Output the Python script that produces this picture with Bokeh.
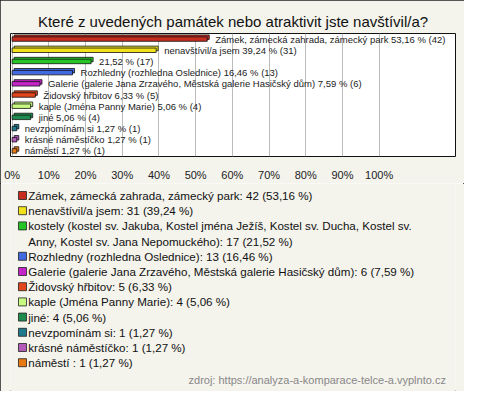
from bokeh.plotting import figure
from bokeh.layouts import column
from bokeh.models import (ColumnDataSource, Range1d, FixedTicker, PrintfTickFormatter, Label)
from bokeh.core.properties import value
from bokeh.embed import file_html
from bokeh.resources import INLINE

# ---- data ----
names = [
    "Zámek, zámecká zahrada, zámecký park",
    "nenavštívil/a jsem",
    "kostely (kostel sv. Jakuba, Kostel jména Ježíš, Kostel sv. Ducha, Kostel sv. Anny, Kostel sv. Jana Nepomuckého)",
    "Rozhledny (rozhledna Oslednice)",
    "Galerie (galerie Jana Zrzavého, Městská galerie Hasičský dům)",
    "Židovský hřbitov",
    "kaple (Jména Panny Marie)",
    "jiné",
    "nevzpomínám si",
    "krásné náměstíčko",
    "náměstí ",
]
bar_names = [
    "Zámek, zámecká zahrada, zámecký park",
    "nenavštívil/a jsem",
    "",
    "Rozhledny (rozhledna Oslednice)",
    "Galerie (galerie Jana Zrzavého, Městská galerie Hasičský dům)",
    "Židovský hřbitov",
    "kaple (Jména Panny Marie)",
    "jiné",
    "nevzpomínám si",
    "krásné náměstíčko",
    "náměstí ",
]
counts = [42, 31, 17, 13, 6, 5, 4, 4, 1, 1, 1]
percents = [53.16, 39.24, 21.52, 16.46, 7.59, 6.33, 5.06, 5.06, 1.27, 1.27, 1.27]
colors = ["#C62D1F", "#F2E21B", "#27C427", "#4169E1", "#C425C8", "#E2461C",
          "#C8FA82", "#1E8C4E", "#1E7A8C", "#B45AB9", "#E87A14"]
x_ticks = [0, 10, 20, 30, 40, 50, 60, 70, 80, 90, 100]
title_text = "Které z uvedených památek nebo atraktivit jste navštívil/a?"
source_text = "zdroj: https://analyza-a-komparace-telce-a.vyplnto.cz"

FONT = "Liberation Sans"
BG = "#F4F3EC"
W = 464
H1 = 183
H2 = 208


def fmt(p):
    return f"{p:.2f}".replace(".", ",")


rows = list(range(len(names)))
bar_labels = [((n + " ") if n else "") + f"{fmt(p)} % ({c})"
              for n, p, c in zip(bar_names, percents, counts)]
legend_labels = [f"{n}: {c} ({fmt(p)} %)" for n, p, c in zip(names, percents, counts)]
legend_labels = [l.replace("Ducha, Kostel sv. Anny", "Ducha, Kostel sv.\nAnny") for l in legend_labels]

# ---------------- bar chart ----------------
DX = 0.55   # 3D depth, % units
DY = 0.17   # 3D depth, row units
BH = 0.40

src = ColumnDataSource(dict(
    row=rows, pct=percents, color=colors, blabel=bar_labels,
    back_row=[r - DY for r in rows], back_left=[DX] * len(rows),
    back_right=[p + DX for p in percents],
))

p = figure(width=W, height=H1, output_backend="svg", toolbar_location=None,
           x_range=Range1d(-0.44, 120.8), y_range=Range1d(10.5, -0.5),
           y_axis_location=None, min_border_left=10, min_border_right=9,
           min_border_top=33, min_border_bottom=23,
           background_fill_color="white", border_fill_color=BG,
           outline_line_color="#111111", outline_line_width=1)

p.title.text = title_text
p.title.align = "center"
p.title.text_font = FONT
p.title.text_font_size = "15px"
p.title.text_font_style = "normal"
p.title.text_color = "#111111"
p.title.standoff = 7

p.hbar(y="back_row", left="back_left", right="back_right", height=BH, source=src,
       fill_color="color", line_color="#111111", line_width=0.8)
p.hbar(y="row", left=0, right="pct", height=BH, source=src,
       fill_color="color", line_color="#111111", line_width=0.8)

p.text(x="pct", y="row", text="blabel", source=src, x_offset=8,
       text_font=value(FONT), text_font_size="9.5px", text_baseline="middle",
       text_color="#222222")

ax = p.xaxis[0]
ax.ticker = FixedTicker(ticks=x_ticks)
ax.formatter = PrintfTickFormatter(format="%d%%")
ax.axis_line_color = None
ax.major_tick_line_color = None
ax.minor_tick_line_color = None
ax.major_label_standoff = 6
ax.major_label_text_font = FONT
ax.major_label_text_font_size = "11px"
ax.major_label_text_color = "#222222"

p.xgrid.grid_line_color = "#BBBBBB"
p.ygrid.grid_line_color = None

# ---------------- legend panel ----------------
LINE = 15.2
FIRST = 12
sq_y = []
txt_y = []
txt = []
k = 0
for lab in legend_labels:
    sq_y.append(FIRST + LINE * k)
    for part in lab.split("\n"):
        txt.append(part)
        txt_y.append(FIRST + LINE * k)
        k += 1

ssrc = ColumnDataSource(dict(sq_y=sq_y, color=colors))
tsrc = ColumnDataSource(dict(txt_y=txt_y, label=txt))

q = figure(width=W, height=H2, output_backend="svg", toolbar_location=None,
           x_range=Range1d(0, W), y_range=Range1d(H2, 0),
           x_axis_location=None, y_axis_location=None, min_border=0,
           background_fill_color=BG, border_fill_color=BG, outline_line_color=None)
q.grid.grid_line_color = None
q.rect(x=12.5, y="sq_y", width=8, height=8, width_units="screen", height_units="screen",
       source=ssrc, fill_color="color", line_color="#222222", line_width=0.8)
q.text(x=18.5, y="txt_y", text="label", source=tsrc, text_font=value(FONT),
       text_font_size="11.6px", text_baseline="middle", text_color="#111111")
q.add_layout(Label(x=454, y=196, text=source_text, text_align="right",
                   text_baseline="middle", text_font=FONT, text_font_size="11px",
                   text_color="#888888"))

layout = column(p, q, spacing=0,
                styles={"outline": "1px solid #222222", "outline-offset": "-1px"})

open("out.html", "w").write(file_html(layout, INLINE))
